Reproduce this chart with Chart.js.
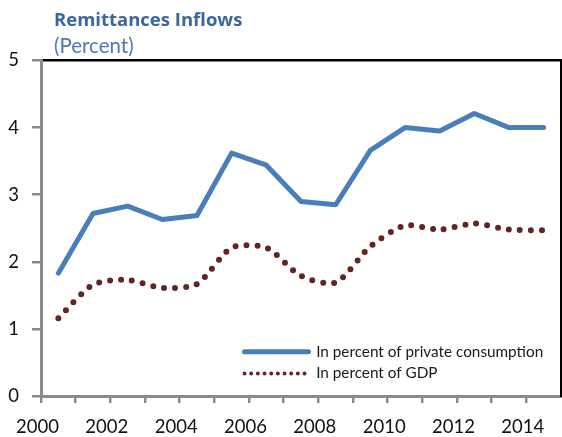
<!DOCTYPE html>
<html>
<head>
<meta charset="utf-8">
<script src="https://cdn.jsdelivr.net/npm/chart.js@4/dist/chart.umd.min.js"></script>
<style>
  html, body { margin: 0; padding: 0; background: #ffffff; }
  #wrap { width: 562px; height: 437px; }
</style>
</head>
<body>
<div id="wrap"><canvas id="c" width="562" height="437"></canvas></div>
<script>
// ---- data ----
const TITLE = 'Remittances Inflows';
const SUBTITLE = '(Percent)';
const YEARS = ['2000', '2001', '2002', '2003', '2004', '2005', '2006', '2007',
               '2008', '2009', '2010', '2011', '2012', '2013', '2014'];
const PRIVATE_CONSUMPTION = [1.83, 2.72, 2.83, 2.63, 2.69, 3.62, 3.44, 2.90,
                             2.85, 3.66, 4.00, 3.95, 4.21, 4.00, 4.00];
const GDP = [1.16, 1.66, 1.73, 1.61, 1.67, 2.21, 2.21, 1.79,
             1.69, 2.23, 2.54, 2.48, 2.57, 2.48, 2.47];
const SERIES_NAMES = ['In percent of private consumption', 'In percent of GDP'];
const X_TICK_YEARS = [2000, 2001, 2002, 2003, 2004, 2005, 2006, 2007,
                      2008, 2009, 2010, 2011, 2012, 2013, 2014];
const X_LABEL_YEARS = [2000, 2002, 2004, 2006, 2008, 2010, 2012, 2014];
const Y_TICKS = [0, 1, 2, 3, 4, 5];

// ---- styles ----
const FONT = 'Lato';
const AXIS_GREY = '#8a8a8a';
const BLUE = '#4a7ebb';
const BROWN = '#652424';

const placement = {
  id: 'placement',
  afterLayout(chart) {
    const ca = chart.chartArea;
    chart.boxes.forEach(b => {
      if (b.options && (b.options.text === TITLE || b.options.text === SUBTITLE)) {
        b.left = ca.left + 13;
      }
    });
    const lg = chart.legend;
    if (lg) {
      lg.left = ca.left + 197;
      lg.top = ca.top + 277;
      lg.bottom = ca.bottom + 40;
    }
  }
};

new Chart(document.getElementById('c'), {
  type: 'line',
  data: {
    labels: YEARS,
    datasets: [
      {
        label: SERIES_NAMES[0],
        data: PRIVATE_CONSUMPTION,
        borderColor: BLUE,
        backgroundColor: BLUE,
        borderWidth: 5,
        borderCapStyle: 'round',
        borderJoinStyle: 'round',
        pointRadius: 0,
        tension: 0,
        xAxisID: 'x',
        yAxisID: 'y'
      },
      {
        label: SERIES_NAMES[1],
        data: GDP,
        borderColor: BROWN,
        backgroundColor: BROWN,
        borderWidth: 6,
        borderDash: [0, 11],
        borderCapStyle: 'round',
        pointRadius: 0,
        tension: 0.25,
        xAxisID: 'x',
        yAxisID: 'y'
      }
    ]
  },
  options: {
    responsive: false,
    animation: false,
    layout: { padding: { left: 0, right: 1, top: 0, bottom: 0 } },
    plugins: {
      title: {
        display: true,
        text: TITLE,
        align: 'start',
        fullSize: false,
        color: '#3a66a2',
        font: { family: 'Open Sans', size: 18.5, weight: 'bold' },
        padding: { top: 10, bottom: 0 }
      },
      subtitle: {
        display: true,
        text: SUBTITLE,
        align: 'start',
        fullSize: false,
        color: '#4a7bb8',
        font: { family: FONT, size: 20.5, weight: 'normal' },
        padding: { top: 2, bottom: 1.7 }
      },
      legend: {
        position: 'chartArea',
        align: 'start',
        labels: {
          usePointStyle: true,
          pointStyle: 'line',
          pointStyleWidth: 64,
          padding: 6.5,
          color: '#1a1a1a',
          font: { family: FONT, size: 15.3 },
          generateLabels(chart) {
            const items = Chart.defaults.plugins.legend.labels.generateLabels(chart);
            items[0].lineWidth = 5;
            items[0].lineCap = 'round';
            items[1].lineWidth = 4;
            items[1].lineCap = 'round';
            items[1].lineDash = [0, 6.67];
            return items;
          }
        }
      },
      tooltip: { enabled: false }
    },
    scales: {
      x: {
        type: 'category',
        offset: true,
        display: false
      },
      xAxis: {
        type: 'linear',
        position: 'bottom',
        min: 2000,
        max: 2015,
        afterBuildTicks(s) { s.ticks = X_TICK_YEARS.map(v => ({ value: v })); },
        afterFit(s) { s.height = 41; },
        ticks: {
          autoSkip: false,
          maxRotation: 0,
          padding: 13,
          labelOffset: -3.5,
          color: '#111111',
          font: { family: FONT, size: 18.5 },
          callback: v => (X_LABEL_YEARS.includes(v) ? String(v) : '')
        },
        grid: {
          display: true,
          drawOnChartArea: false,
          drawTicks: true,
          tickLength: 7,
          color: AXIS_GREY,
          lineWidth: 2.5
        },
        border: { display: true, color: AXIS_GREY, width: 3 }
      },
      xTop: {
        type: 'category',
        position: 'top',
        offset: true,
        ticks: { display: false },
        grid: { display: false, drawTicks: false },
        border: { display: true, color: '#000000', width: 2.5 }
      },
      y: {
        type: 'linear',
        position: 'left',
        min: 0,
        max: 5,
        afterBuildTicks(s) { s.ticks = Y_TICKS.map(v => ({ value: v })); },
        afterFit(s) { s.width = 41; },
        ticks: {
          padding: 13,
          color: '#111111',
          font: { family: FONT, size: 18.5 }
        },
        grid: {
          display: true,
          drawOnChartArea: false,
          drawTicks: true,
          tickLength: 9,
          color: AXIS_GREY,
          lineWidth: 2.5
        },
        border: { display: true, color: AXIS_GREY, width: 3 }
      },
      yRight: {
        type: 'linear',
        position: 'right',
        min: 0,
        max: 5,
        ticks: { display: false },
        grid: { display: false, drawTicks: false },
        border: { display: true, color: '#000000', width: 2 }
      }
    }
  },
  plugins: [placement]
});
</script>
</body>
</html>
